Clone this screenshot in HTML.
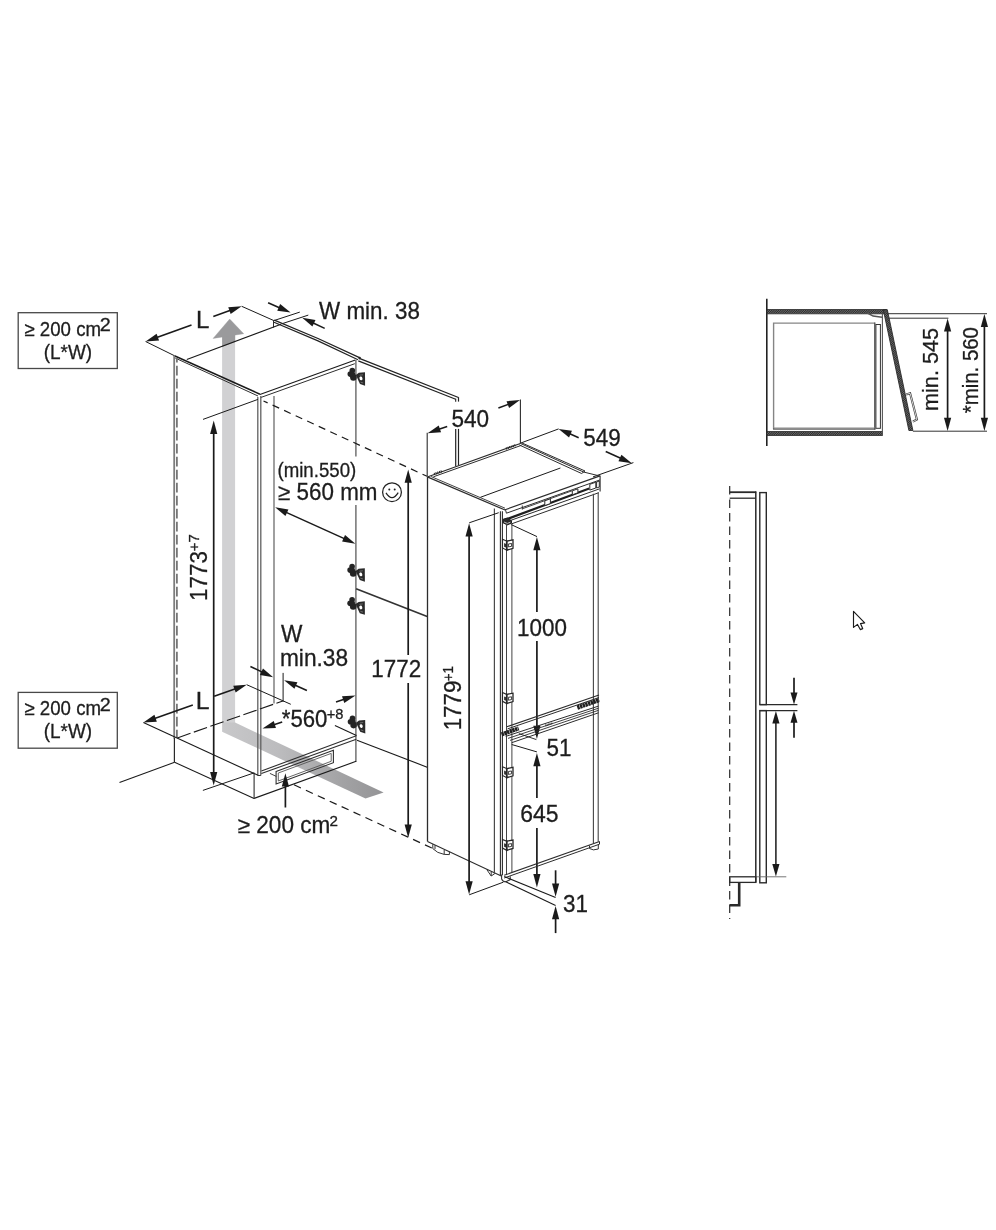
<!DOCTYPE html>
<html><head><meta charset="utf-8"><title>Installation dimensions</title>
<style>
html,body{margin:0;padding:0;background:#fff;}
body{width:996px;height:1230px;overflow:hidden;}
svg{display:block;}
svg text{font-family:"Liberation Sans",sans-serif;}
</style></head><body>
<svg width="996" height="1230" viewBox="0 0 996 1230">
<rect width="996" height="1230" fill="#fff"/>
<defs><linearGradient id="gb" x1="0" y1="0" x2="1" y2="0"><stop offset="0" stop-color="#c8c8ca"/><stop offset="0.35" stop-color="#bcbcbe"/><stop offset="0.75" stop-color="#a2a2a4"/><stop offset="1" stop-color="#949496"/></linearGradient></defs>
<polygon points="222.1,345 235.1,340 235.1,723.1 222.1,723.1" fill="#d1d1d3"/>
<polygon points="222.1,333 222.1,347 235.2,342 235.2,331" fill="#9a9a9c"/>
<polygon points="229.7,319.1 213.1,338.4 243.7,333.7" fill="#9a9a9c" stroke="#9a9a9c" stroke-width="0.4"/>
<polygon points="222.1,722.6 235.1,722.6 383.6,792.4 365.5,798.6 222.1,731.7" fill="url(#gb)"/>
<line x1="191.5" y1="325" x2="155.39" y2="337.98" stroke="#1a1a1a" stroke-width="1.6" />
<polygon points="145.60,341.50 156.62,333.71 159.05,340.49" fill="#1a1a1a"/>
<line x1="213.3" y1="316.4" x2="231.9" y2="309.78" stroke="#1a1a1a" stroke-width="1.6" />
<polygon points="241.70,306.30 230.66,314.05 228.25,307.26" fill="#1a1a1a"/>
<line x1="145.6" y1="341.5" x2="174.4" y2="355.7" stroke="#1a1a1a" stroke-width="1" />
<line x1="241.7" y1="306.3" x2="273.9" y2="320.6" stroke="#1a1a1a" stroke-width="1" />
<line x1="268.1" y1="302.7" x2="281.08" y2="308.41" stroke="#1a1a1a" stroke-width="1.6" />
<polygon points="290.60,312.60 277.25,310.66 280.15,304.07" fill="#1a1a1a"/>
<line x1="324.7" y1="328.4" x2="311.59" y2="322.17" stroke="#1a1a1a" stroke-width="1.6" />
<polygon points="302.20,317.70 315.49,320.03 312.39,326.53" fill="#1a1a1a"/>
<line x1="273.9" y1="320.6" x2="299.8" y2="312.1" stroke="#1a1a1a" stroke-width="1" />
<line x1="281.5" y1="323.9" x2="308.3" y2="315.1" stroke="#1a1a1a" stroke-width="1" />
<line x1="273.5" y1="320.3" x2="273.5" y2="327.6" stroke="#2e2e2e" stroke-width="1" />
<line x1="186.8" y1="359.6" x2="281.0" y2="324.2" stroke="#1a1a1a" stroke-width="1.1" />
<polyline points="274.3,320.1 318,338.5 360.0,357.9" fill="none" stroke="#222" stroke-width="1.3" stroke-linejoin="miter"/>
<line x1="360.0" y1="358.6" x2="458.5" y2="397.5" stroke="#222" stroke-width="1.3" />
<polyline points="274.0,322.3 318,340.9 358.0,359.8" fill="none" stroke="#222" stroke-width="1.2" stroke-linejoin="miter"/>
<line x1="358.3" y1="360.9" x2="455.7" y2="399.2" stroke="#222" stroke-width="1.2" />
<line x1="458.5" y1="397.2" x2="458.5" y2="401.6" stroke="#222" stroke-width="1.2" />
<line x1="455.7" y1="398.8" x2="455.7" y2="401.8" stroke="#222" stroke-width="1.1" />
<line x1="458.5" y1="428.9" x2="458.5" y2="465.3" stroke="#222" stroke-width="1.2" />
<line x1="455.7" y1="428.9" x2="455.7" y2="466.3" stroke="#222" stroke-width="1.2" />
<circle cx="359.6" cy="358.1" r="1.3" fill="#222"/>
<line x1="174.4" y1="355.7" x2="259.9" y2="394.2" stroke="#1a1a1a" stroke-width="1.5" />
<line x1="175.2" y1="358.0" x2="258.0" y2="396.0" stroke="#2e2e2e" stroke-width="1" />
<line x1="259.9" y1="394.4" x2="355.3" y2="360.0" stroke="#1a1a1a" stroke-width="1.1" />
<line x1="260.5" y1="397.6" x2="354.8" y2="363.7" stroke="#2e2e2e" stroke-width="1" />
<line x1="174.2" y1="356" x2="174.2" y2="738.5" stroke="#7c7c7c" stroke-width="1.8" />
<line x1="174.4" y1="738" x2="174.4" y2="762.3" stroke="#2a2a2a" stroke-width="1.2" />
<line x1="176.9" y1="358.1" x2="176.9" y2="737.4" stroke="#707070" stroke-width="1.7" stroke-dasharray="9.8 3.2" stroke-dashoffset="5.3"/>
<line x1="257.8" y1="397" x2="257.8" y2="775.5" stroke="#606060" stroke-width="1.3" />
<line x1="260.8" y1="396" x2="260.8" y2="775.5" stroke="#606060" stroke-width="1.3" />
<line x1="274.0" y1="396" x2="274.0" y2="698" stroke="#606060" stroke-width="1.2" />
<line x1="355.9" y1="360" x2="355.9" y2="456.5" stroke="#626262" stroke-width="1.35" />
<line x1="355.9" y1="505" x2="355.9" y2="762" stroke="#626262" stroke-width="1.35" />
<line x1="203" y1="419.4" x2="257.9" y2="399.4" stroke="#1a1a1a" stroke-width="1" />
<line x1="213.7" y1="432" x2="213.7" y2="775" stroke="#1a1a1a" stroke-width="1.7" />
<polygon points="213.70,420.60 217.30,433.90 210.10,433.90" fill="#1a1a1a"/>
<polygon points="213.70,785.40 210.10,772.10 217.30,772.10" fill="#1a1a1a"/>
<line x1="202.9" y1="790.4" x2="254.3" y2="772.8" stroke="#1a1a1a" stroke-width="1" />
<line x1="263.5" y1="401.0" x2="267.6" y2="402.9" stroke="#1a1a1a" stroke-width="1.2" />
<line x1="272.6" y1="405.1" x2="427" y2="476.3" stroke="#1a1a1a" stroke-width="1.2" stroke-dasharray="7.2 5.5" />
<line x1="284.57" y1="511.59" x2="345.93" y2="539.41" stroke="#1a1a1a" stroke-width="1.5" />
<polygon points="355.40,543.70 342.07,541.61 345.05,535.05" fill="#1a1a1a"/>
<polygon points="275.10,507.30 288.43,509.39 285.45,515.95" fill="#1a1a1a"/>
<circle cx="392.0" cy="492.2" r="9.4" fill="none" stroke="#222" stroke-width="1.25"/>
<circle cx="389.3" cy="489.6" r="1.0" fill="#222"/><circle cx="394.7" cy="489.6" r="1.0" fill="#222"/>
<path d="M386.0 492.9 Q392.0 502.6 398.2 492.6" fill="none" stroke="#222" stroke-width="1.25"/>
<g transform="translate(347.4,367.8)"><circle cx="4.9" cy="2.8" r="2.8" fill="#242424"/><circle cx="2.9" cy="6.3" r="2.8" fill="#242424"/><circle cx="6.0" cy="9.6" r="3.3" fill="#242424"/><circle cx="5.2" cy="6.2" r="2.6" fill="#242424"/><path d="M8.5 7.2 L11.4 5.0 L17.6 4.4 L17.7 17.9 L12.6 16.3 L10.6 12 Z" fill="#2a2a2a"/><ellipse cx="13.6" cy="10.6" rx="1.5" ry="1.9" fill="#fff" transform="rotate(-20 13.6 10.6)"/><path d="M12.2 7.4 L15.6 7.0" stroke="#888" stroke-width="0.7"/><path d="M13.2 14.4 L15.8 15.2" stroke="#888" stroke-width="0.7"/></g>
<g transform="translate(347.2,563.8)"><circle cx="4.9" cy="2.8" r="2.8" fill="#242424"/><circle cx="2.9" cy="6.3" r="2.8" fill="#242424"/><circle cx="6.0" cy="9.6" r="3.3" fill="#242424"/><circle cx="5.2" cy="6.2" r="2.6" fill="#242424"/><path d="M8.5 7.2 L11.4 5.0 L17.6 4.4 L17.7 17.9 L12.6 16.3 L10.6 12 Z" fill="#2a2a2a"/><ellipse cx="13.6" cy="10.6" rx="1.5" ry="1.9" fill="#fff" transform="rotate(-20 13.6 10.6)"/><path d="M12.2 7.4 L15.6 7.0" stroke="#888" stroke-width="0.7"/><path d="M13.2 14.4 L15.8 15.2" stroke="#888" stroke-width="0.7"/></g>
<g transform="translate(347.2,596.9)"><circle cx="4.9" cy="2.8" r="2.8" fill="#242424"/><circle cx="2.9" cy="6.3" r="2.8" fill="#242424"/><circle cx="6.0" cy="9.6" r="3.3" fill="#242424"/><circle cx="5.2" cy="6.2" r="2.6" fill="#242424"/><path d="M8.5 7.2 L11.4 5.0 L17.6 4.4 L17.7 17.9 L12.6 16.3 L10.6 12 Z" fill="#2a2a2a"/><ellipse cx="13.6" cy="10.6" rx="1.5" ry="1.9" fill="#fff" transform="rotate(-20 13.6 10.6)"/><path d="M12.2 7.4 L15.6 7.0" stroke="#888" stroke-width="0.7"/><path d="M13.2 14.4 L15.8 15.2" stroke="#888" stroke-width="0.7"/></g>
<g transform="translate(347.6,715.5)"><circle cx="4.9" cy="2.8" r="2.8" fill="#242424"/><circle cx="2.9" cy="6.3" r="2.8" fill="#242424"/><circle cx="6.0" cy="9.6" r="3.3" fill="#242424"/><circle cx="5.2" cy="6.2" r="2.6" fill="#242424"/><path d="M8.5 7.2 L11.4 5.0 L17.6 4.4 L17.7 17.9 L12.6 16.3 L10.6 12 Z" fill="#2a2a2a"/><ellipse cx="13.6" cy="10.6" rx="1.5" ry="1.9" fill="#fff" transform="rotate(-20 13.6 10.6)"/><path d="M12.2 7.4 L15.6 7.0" stroke="#888" stroke-width="0.7"/><path d="M13.2 14.4 L15.8 15.2" stroke="#888" stroke-width="0.7"/></g>
<line x1="356.1" y1="588.8" x2="427.2" y2="616.5" stroke="#333" stroke-width="1.7" />
<line x1="334.9" y1="725.4" x2="356.5" y2="735.4" stroke="#1a1a1a" stroke-width="1.1" />
<line x1="357" y1="740.3" x2="427.8" y2="767.4" stroke="#1a1a1a" stroke-width="1.1" />
<line x1="192.8" y1="705" x2="153.2" y2="719.11" stroke="#1a1a1a" stroke-width="1.6" />
<polygon points="143.40,722.60 154.44,714.85 156.85,721.63" fill="#1a1a1a"/>
<line x1="214.2" y1="696.2" x2="236.9" y2="688.17" stroke="#1a1a1a" stroke-width="1.6" />
<polygon points="246.70,684.70 235.65,692.43 233.24,685.64" fill="#1a1a1a"/>
<line x1="246.7" y1="684.7" x2="290.8" y2="704.3" stroke="#1a1a1a" stroke-width="1" />
<line x1="250.4" y1="666.5" x2="263.8" y2="672.85" stroke="#1a1a1a" stroke-width="1.6" />
<polygon points="273.20,677.30 259.91,674.99 262.99,668.48" fill="#1a1a1a"/>
<line x1="306.9" y1="690.6" x2="293.56" y2="684.52" stroke="#1a1a1a" stroke-width="1.6" />
<polygon points="284.10,680.20 297.42,682.32 294.43,688.87" fill="#1a1a1a"/>
<line x1="283.1" y1="672.9" x2="283.1" y2="701.8" stroke="#1a1a1a" stroke-width="1" />
<line x1="274.0" y1="698" x2="274.0" y2="703.5" stroke="#606060" stroke-width="1.2" />
<line x1="177.3" y1="737.9" x2="282.8" y2="701" stroke="#1a1a1a" stroke-width="1.1" stroke-dasharray="14 3.5" />
<line x1="282.2" y1="722.1" x2="272.38" y2="725.34" stroke="#1a1a1a" stroke-width="1.6" />
<polygon points="262.50,728.60 273.72,721.11 275.97,727.95" fill="#1a1a1a"/>
<line x1="336" y1="702" x2="345.62" y2="698.84" stroke="#1a1a1a" stroke-width="1.6" />
<polygon points="355.50,695.60 344.27,703.07 342.03,696.23" fill="#1a1a1a"/>
<line x1="143.4" y1="722.6" x2="258" y2="775.3" stroke="#1a1a1a" stroke-width="1.1" />
<line x1="174.6" y1="762.3" x2="119.5" y2="782.4" stroke="#1a1a1a" stroke-width="1.1" />
<line x1="174.6" y1="762.3" x2="254.1" y2="798.4" stroke="#1a1a1a" stroke-width="1.1" />
<line x1="254.1" y1="773.3" x2="254.1" y2="798.4" stroke="#2e2e2e" stroke-width="1.1" />
<line x1="254.1" y1="798.4" x2="356.1" y2="761.3" stroke="#1a1a1a" stroke-width="1.1" />
<line x1="261.4" y1="771.0" x2="356.3" y2="735.8" stroke="#2e2e2e" stroke-width="1.1" />
<line x1="261.4" y1="773.6" x2="356.3" y2="739.3" stroke="#2e2e2e" stroke-width="1.1" />
<line x1="269.9" y1="773.4" x2="276.3" y2="776.4" stroke="#2e2e2e" stroke-width="0.9" />
<line x1="257.8" y1="775.5" x2="260.8" y2="775.5" stroke="#2e2e2e" stroke-width="1" />
<polygon points="276.1,771.5 333.4,750.2 333.4,762.7 276.1,784" fill="none" stroke="#2e2e2e" stroke-width="1.1" stroke-linejoin="miter"/>
<polygon points="278.3,773.0 331.2,753.4 331.2,761.3 278.3,781.0" fill="none" stroke="#555" stroke-width="0.9" stroke-linejoin="miter"/>
<line x1="285.4" y1="783" x2="285.4" y2="807.5" stroke="#1a1a1a" stroke-width="1.7" />
<polygon points="285.40,773.30 289.00,786.60 281.80,786.60" fill="#1a1a1a"/>
<line x1="294" y1="784.8" x2="431.8" y2="848" stroke="#1a1a1a" stroke-width="1.2" stroke-dasharray="7.6 5.5" />
<rect x="18.2" y="312.7" width="99.1" height="55.8" fill="#fff" stroke="#484848" stroke-width="1.3"/>
<rect x="18.2" y="692.4000000000001" width="99.1" height="55.8" fill="#fff" stroke="#484848" stroke-width="1.3"/>
<line x1="427.2" y1="432.7" x2="427.2" y2="476.6" stroke="#2c2c2c" stroke-width="1.1" />
<line x1="447.2" y1="426.4" x2="437.43" y2="429.79" stroke="#1a1a1a" stroke-width="1.6" />
<polygon points="427.60,433.20 438.70,425.54 441.06,432.34" fill="#1a1a1a"/>
<line x1="498.4" y1="408.1" x2="510.26" y2="403.65" stroke="#1a1a1a" stroke-width="1.6" />
<polygon points="520.00,400.00 509.09,407.94 506.56,401.19" fill="#1a1a1a"/>
<line x1="520.4" y1="399.5" x2="520.4" y2="443.4" stroke="#2c2c2c" stroke-width="1.1" />
<line x1="578.7" y1="437.7" x2="568.13" y2="433.07" stroke="#1a1a1a" stroke-width="1.6" />
<polygon points="558.60,428.90 571.95,430.82 569.06,437.41" fill="#1a1a1a"/>
<line x1="605.7" y1="451.6" x2="622.31" y2="459.05" stroke="#1a1a1a" stroke-width="1.6" />
<polygon points="631.80,463.30 618.46,461.27 621.41,454.70" fill="#1a1a1a"/>
<line x1="520.4" y1="443.2" x2="558.6" y2="428.9" stroke="#1a1a1a" stroke-width="1" />
<line x1="593.0" y1="476.9" x2="633.4" y2="462.6" stroke="#1a1a1a" stroke-width="1" />
<line x1="427.3" y1="476.9" x2="520.4" y2="443.4" stroke="#2c2c2c" stroke-width="1.1" />
<line x1="433.4" y1="476.8" x2="521.5" y2="445.3" stroke="#2c2c2c" stroke-width="1.0" />
<line x1="434" y1="474.0" x2="442" y2="471.2" stroke="#222" stroke-width="2.2" stroke-dasharray="1 0.8" />
<line x1="506" y1="448.6" x2="516" y2="445.0" stroke="#222" stroke-width="2.2" stroke-dasharray="1 0.8" />
<line x1="520.4" y1="443.4" x2="583.5" y2="472.0" stroke="#2c2c2c" stroke-width="1.0" />
<line x1="519.4" y1="445.0" x2="581.6" y2="473.5" stroke="#2c2c2c" stroke-width="1.0" />
<line x1="521.8" y1="442.9" x2="585.0" y2="471.0" stroke="#2c2c2c" stroke-width="1.0" />
<line x1="581.6" y1="473.5" x2="585.0" y2="471.0" stroke="#2c2c2c" stroke-width="1.0" />
<line x1="583.5" y1="472.0" x2="599.8" y2="476.0" stroke="#2c2c2c" stroke-width="1.0" />
<line x1="480.4" y1="497.3" x2="560.4" y2="468.0" stroke="#1a1a1a" stroke-width="1.0" />
<line x1="427.3" y1="476.9" x2="505.7" y2="510.3" stroke="#2c2c2c" stroke-width="1.2" />
<line x1="431.0" y1="476.5" x2="505.0" y2="508.2" stroke="#2c2c2c" stroke-width="0.9" />
<line x1="505.0" y1="509.8" x2="600" y2="475.9" stroke="#2c2c2c" stroke-width="1.2" />
<line x1="506.4" y1="513.2" x2="600" y2="479.9" stroke="#2c2c2c" stroke-width="1.0" />
<line x1="505.7" y1="510.3" x2="506.4" y2="513.2" stroke="#2c2c2c" stroke-width="1" />
<line x1="600.1" y1="475.6" x2="600.1" y2="491.6" stroke="#2c2c2c" stroke-width="1.1" />
<line x1="522.3" y1="508.8" x2="572.3" y2="490.7" stroke="#2c2c2c" stroke-width="0.9" />
<line x1="503.6" y1="520.4" x2="589.2" y2="488.5" stroke="#1e1e1e" stroke-width="2.2" />
<line x1="507.2" y1="521.6" x2="599.4" y2="488.9" stroke="#2c2c2c" stroke-width="1.0" />
<line x1="510.8" y1="524.1" x2="598.8" y2="492.7" stroke="#2c2c2c" stroke-width="1.0" />
<line x1="522.3" y1="505.5" x2="522.3" y2="509.5" stroke="#2c2c2c" stroke-width="0.9" />
<polygon points="572.3,490.8 577.9,488.8 577.9,492.8 572.3,494.8" fill="#fff" stroke="#2c2c2c" stroke-width="1.0" stroke-linejoin="miter"/>
<polygon points="589.8,484.3 595.8,482.2 595.8,488.0 589.8,490.1" fill="#fff" stroke="#2c2c2c" stroke-width="1.0" stroke-linejoin="miter"/>
<polygon points="596.6,482.0 599.3,481.0 599.3,487.0 596.6,488.0" fill="#fff" stroke="#2c2c2c" stroke-width="1.0" stroke-linejoin="miter"/>
<polygon points="544.8,500.8 550.4,498.8 550.4,503.6 544.8,505.6" fill="#fff" stroke="#2c2c2c" stroke-width="1.0" stroke-linejoin="miter"/>
<polygon points="502.5,519.5 507.3,518.0 511.5,520.7 511.5,523.1 507.3,524.9 502.5,522.5" fill="#2a2a2a" stroke="#222" stroke-width="1" stroke-linejoin="miter"/>
<polyline points="504.0,522.0 507.3,523.4 510.4,522.2" fill="none" stroke="#ddd" stroke-width="0.8" stroke-linejoin="miter"/>
<line x1="427.5" y1="476.9" x2="427.5" y2="841.4" stroke="#2c2c2c" stroke-width="1.3" />
<line x1="427.5" y1="841.4" x2="501.8" y2="876.2" stroke="#2c2c2c" stroke-width="1.1" />
<line x1="494.4" y1="508.5" x2="494.4" y2="873.5" stroke="#4a4a4a" stroke-width="1.2" />
<line x1="500.4" y1="511.3" x2="500.4" y2="875.3" stroke="#2c2c2c" stroke-width="1.1" />
<line x1="502.4" y1="511.3" x2="502.4" y2="875.3" stroke="#2c2c2c" stroke-width="1.1" />
<line x1="506.5" y1="524" x2="506.5" y2="874.5" stroke="#444" stroke-width="1.0" />
<line x1="511.9" y1="524" x2="511.9" y2="872" stroke="#444" stroke-width="1.0" />
<line x1="593.4" y1="493.7" x2="593.4" y2="843" stroke="#444" stroke-width="1.1" />
<line x1="598.2" y1="492.5" x2="598.2" y2="841.5" stroke="#444" stroke-width="1.1" />
<line x1="469.2" y1="522.8" x2="498.7" y2="512.7" stroke="#1a1a1a" stroke-width="1" />
<line x1="469.1" y1="534" x2="469.1" y2="884" stroke="#1a1a1a" stroke-width="1.7" />
<polygon points="469.10,523.30 472.70,536.60 465.50,536.60" fill="#1a1a1a"/>
<polygon points="469.10,894.60 465.50,881.30 472.70,881.30" fill="#1a1a1a"/>
<line x1="469.2" y1="894.8" x2="503.3" y2="882.2" stroke="#1a1a1a" stroke-width="1" />
<line x1="408.2" y1="480" x2="408.2" y2="655" stroke="#1a1a1a" stroke-width="1.7" />
<line x1="408.2" y1="683" x2="408.2" y2="827" stroke="#1a1a1a" stroke-width="1.7" />
<polygon points="408.20,469.50 411.80,482.80 404.60,482.80" fill="#1a1a1a"/>
<polygon points="408.20,837.70 404.60,824.40 411.80,824.40" fill="#1a1a1a"/>
<line x1="511.4" y1="524.7" x2="537" y2="536.6" stroke="#1a1a1a" stroke-width="1" />
<line x1="536.9" y1="548" x2="536.9" y2="612" stroke="#1a1a1a" stroke-width="1.7" />
<line x1="536.9" y1="641" x2="536.9" y2="728" stroke="#1a1a1a" stroke-width="1.7" />
<polygon points="536.90,537.00 540.50,550.30 533.30,550.30" fill="#1a1a1a"/>
<polygon points="536.90,739.10 533.30,725.80 540.50,725.80" fill="#1a1a1a"/>
<line x1="506.9" y1="726.7" x2="599" y2="695.1" stroke="#2c2c2c" stroke-width="1.1" />
<line x1="507.5" y1="728.9" x2="599" y2="697.5" stroke="#2c2c2c" stroke-width="1.0" />
<line x1="505.7" y1="736.4" x2="598.5" y2="706.1" stroke="#2c2c2c" stroke-width="1.0" />
<line x1="508" y1="738.4" x2="598.5" y2="708.2" stroke="#2c2c2c" stroke-width="0.9" />
<line x1="510" y1="740.4" x2="598.5" y2="710.3" stroke="#2c2c2c" stroke-width="0.9" />
<line x1="511.7" y1="742.7" x2="598.5" y2="712.8" stroke="#2c2c2c" stroke-width="1.0" />
<line x1="501.6" y1="734.4" x2="518.7" y2="728.4" stroke="#202020" stroke-width="4.2" stroke-dasharray="2.4 0.45" />
<line x1="577.3" y1="707.6" x2="599.2" y2="700.0" stroke="#202020" stroke-width="4.4" stroke-dasharray="2.4 0.45" />
<line x1="545.4" y1="725.6" x2="552.7" y2="723.1" stroke="#333" stroke-width="2.0" stroke-dasharray="0.9 0.6" />
<line x1="518.9" y1="733.6" x2="536.4" y2="739.6" stroke="#1a1a1a" stroke-width="0.9" />
<line x1="511.7" y1="744.5" x2="536.9" y2="751.9" stroke="#1a1a1a" stroke-width="1" />
<line x1="536.9" y1="764" x2="536.9" y2="798" stroke="#1a1a1a" stroke-width="1.7" />
<line x1="536.9" y1="828" x2="536.9" y2="877" stroke="#1a1a1a" stroke-width="1.7" />
<polygon points="536.90,752.90 540.50,766.20 533.30,766.20" fill="#1a1a1a"/>
<polygon points="536.90,887.40 533.30,874.10 540.50,874.10" fill="#1a1a1a"/>
<line x1="504.2" y1="875.3" x2="599.5" y2="841.5" stroke="#2c2c2c" stroke-width="1.1" />
<line x1="504.2" y1="878.0" x2="599.5" y2="844.2" stroke="#2c2c2c" stroke-width="1.0" />
<line x1="599.5" y1="841.5" x2="599.5" y2="844.2" stroke="#2c2c2c" stroke-width="1" />
<path d="M432.8 844.2 L432.8 848.6 Q437 853.2 444.2 854.4 L449.4 854.6 L449.4 851.6 M435 845.2 L435 849.2 M444.2 850 L444.2 854.4" fill="none" stroke="#333" stroke-width="1"/>
<path d="M486.8 869.6 L491.2 876.0 L494.8 873.6 M491.2 871.8 L491.2 876.0" fill="none" stroke="#333" stroke-width="1"/>
<path d="M589.5 845.5 L589.5 848.5 Q593 851 598.3 849 L598.3 844.5" fill="none" stroke="#333" stroke-width="1"/>
<path d="M501.6 874.5 L501.6 879 Q503 882.4 506.4 881.6 L510.2 879.6 L510.2 876.2" fill="none" stroke="#333" stroke-width="1.1"/>
<line x1="504.2" y1="876.6" x2="555.6" y2="897.4" stroke="#1a1a1a" stroke-width="1.1" />
<line x1="505.4" y1="881.6" x2="555.6" y2="905.5" stroke="#1a1a1a" stroke-width="1.1" />
<line x1="555.6" y1="870.3" x2="555.6" y2="886" stroke="#1a1a1a" stroke-width="1.7" />
<polygon points="555.60,896.70 552.00,883.40 559.20,883.40" fill="#1a1a1a"/>
<line x1="555.6" y1="916" x2="555.6" y2="933.1" stroke="#1a1a1a" stroke-width="1.7" />
<polygon points="555.60,906.00 559.20,919.30 552.00,919.30" fill="#1a1a1a"/>
<g transform="translate(502.5,539.3)" stroke="#262626" stroke-linejoin="miter"><polygon points="0,0 4.2,1.8 4.2,10.9 0,8.7" fill="#fff" stroke-width="1.1"/><polygon points="4.2,1.8 10.5,0.6 10.5,9.0 4.2,10.9" fill="#fff" stroke-width="1.3"/><polygon points="5.9,4.7 9.1,4.2 9.1,7.0 5.9,7.6" fill="none" stroke-width="0.9"/><polygon points="1.6,3.8 3.6,4.6 3.6,8.2 1.6,7.4" fill="#333" stroke="none"/><line x1="4.2" y1="1.4" x2="4.2" y2="11.4" stroke-width="1.6"/></g>
<g transform="translate(502.5,692.6)" stroke="#262626" stroke-linejoin="miter"><polygon points="0,0 4.2,1.8 4.2,10.9 0,8.7" fill="#fff" stroke-width="1.1"/><polygon points="4.2,1.8 10.5,0.6 10.5,9.0 4.2,10.9" fill="#fff" stroke-width="1.3"/><polygon points="5.9,4.7 9.1,4.2 9.1,7.0 5.9,7.6" fill="none" stroke-width="0.9"/><polygon points="1.6,3.8 3.6,4.6 3.6,8.2 1.6,7.4" fill="#333" stroke="none"/><line x1="4.2" y1="1.4" x2="4.2" y2="11.4" stroke-width="1.6"/></g>
<g transform="translate(502.5,766.8)" stroke="#262626" stroke-linejoin="miter"><polygon points="0,0 4.2,1.8 4.2,10.9 0,8.7" fill="#fff" stroke-width="1.1"/><polygon points="4.2,1.8 10.5,0.6 10.5,9.0 4.2,10.9" fill="#fff" stroke-width="1.3"/><polygon points="5.9,4.7 9.1,4.2 9.1,7.0 5.9,7.6" fill="none" stroke-width="0.9"/><polygon points="1.6,3.8 3.6,4.6 3.6,8.2 1.6,7.4" fill="#333" stroke="none"/><line x1="4.2" y1="1.4" x2="4.2" y2="11.4" stroke-width="1.6"/></g>
<g transform="translate(502.5,839.4)" stroke="#262626" stroke-linejoin="miter"><polygon points="0,0 4.2,1.8 4.2,10.9 0,8.7" fill="#fff" stroke-width="1.1"/><polygon points="4.2,1.8 10.5,0.6 10.5,9.0 4.2,10.9" fill="#fff" stroke-width="1.3"/><polygon points="5.9,4.7 9.1,4.2 9.1,7.0 5.9,7.6" fill="none" stroke-width="0.9"/><polygon points="1.6,3.8 3.6,4.6 3.6,8.2 1.6,7.4" fill="#333" stroke="none"/><line x1="4.2" y1="1.4" x2="4.2" y2="11.4" stroke-width="1.6"/></g>
<defs><pattern id="hatch" width="1.6" height="1.6" patternUnits="userSpaceOnUse" patternTransform="rotate(45)"><rect width="1.6" height="1.6" fill="#6a6a6a"/><rect width="0.8" height="1.6" fill="#2a2a2a"/></pattern></defs>
<line x1="766.8" y1="298.8" x2="766.8" y2="446" stroke="#222" stroke-width="1.6" />
<polygon points="766.8,309.5 886.6,309.5 887.4,313.8 766.8,313.8" fill="url(#hatch)" stroke="#2a2a2a" stroke-width="0.8"/>
<rect x="766.8" y="431.5" width="115.8" height="4.0" fill="url(#hatch)" stroke="#2a2a2a" stroke-width="0.8"/>
<polyline points="773.6,429.0 773.6,323.1 874.8,323.1" fill="none" stroke="#858585" stroke-width="1.4" stroke-linejoin="miter"/>
<line x1="874.8" y1="322.6" x2="874.8" y2="429.4" stroke="#4a4a4a" stroke-width="1.3" />
<line x1="773.0" y1="428.0" x2="874.8" y2="428.0" stroke="#8a8a8a" stroke-width="1.0" />
<line x1="773.0" y1="429.1" x2="875.4" y2="429.1" stroke="#3c3c3c" stroke-width="1.0" />
<rect x="875.9" y="324.5" width="4.5" height="103.8" fill="#fff" stroke="#333" stroke-width="1.0"/>
<line x1="882.4" y1="314" x2="882.4" y2="434.9" stroke="#555" stroke-width="1.1" />
<polyline points="867.5,313.0 873.1,316.1 882.0,317.2" fill="none" stroke="#555" stroke-width="1.6" stroke-linejoin="miter"/>
<polygon points="883.3,309.7 887.3,309.7 912.9,430.5 908.9,430.5" fill="url(#hatch)" stroke="#2a2a2a" stroke-width="0.9" stroke-linejoin="miter"/>
<polyline points="906.1,394.4 910.1,393.3 916.9,419.5 912.9,421.7" fill="none" stroke="#333" stroke-width="2.1" stroke-linejoin="miter"/>
<polyline points="906.1,394.4 910.1,393.3 916.9,419.5 912.9,421.7" fill="none" stroke="#fff" stroke-width="0.8" stroke-linejoin="miter"/>
<line x1="887.3" y1="313.7" x2="987" y2="313.7" stroke="#333" stroke-width="1.0" />
<line x1="889" y1="318.2" x2="948.4" y2="318.2" stroke="#333" stroke-width="1.0" />
<line x1="912.9" y1="431.2" x2="987" y2="431.2" stroke="#333" stroke-width="1.0" />
<line x1="947.6" y1="328.96" x2="947.6" y2="420.44" stroke="#1a1a1a" stroke-width="1.7" />
<polygon points="947.60,431.00 944.00,417.80 951.20,417.80" fill="#1a1a1a"/>
<polygon points="947.60,318.40 951.20,331.60 944.00,331.60" fill="#1a1a1a"/>
<line x1="984.4" y1="324.46" x2="984.4" y2="420.44" stroke="#1a1a1a" stroke-width="1.7" />
<polygon points="984.40,431.00 980.80,417.80 988.00,417.80" fill="#1a1a1a"/>
<polygon points="984.40,313.90 988.00,327.10 980.80,327.10" fill="#1a1a1a"/>
<line x1="729.7" y1="486" x2="729.7" y2="919" stroke="#2a2a2a" stroke-width="1.2" stroke-dasharray="8.4 5.1" />
<line x1="729.7" y1="492.2" x2="756.2" y2="492.2" stroke="#2a2a2a" stroke-width="1.8" />
<line x1="729.7" y1="498.2" x2="755.8" y2="498.2" stroke="#2a2a2a" stroke-width="1.3" />
<line x1="755.8" y1="491.4" x2="755.8" y2="882.6" stroke="#2a2a2a" stroke-width="1.5" />
<rect x="759.8" y="492.6" width="6.5" height="212" fill="none" stroke="#2a2a2a" stroke-width="1.4"/>
<rect x="759.8" y="710.6" width="6.5" height="172.2" fill="none" stroke="#2a2a2a" stroke-width="1.4"/>
<line x1="759.8" y1="704.6" x2="797.4" y2="704.6" stroke="#2a2a2a" stroke-width="1.1" />
<line x1="759.8" y1="710.6" x2="797.4" y2="710.6" stroke="#2a2a2a" stroke-width="1.1" />
<line x1="794" y1="677.8" x2="794" y2="695" stroke="#1a1a1a" stroke-width="1.7" />
<polygon points="794.00,704.40 790.50,692.40 797.50,692.40" fill="#1a1a1a"/>
<line x1="794" y1="720" x2="794" y2="737.8" stroke="#1a1a1a" stroke-width="1.7" />
<polygon points="794.00,710.80 797.50,722.80 790.50,722.80" fill="#1a1a1a"/>
<line x1="775.9" y1="721.0" x2="775.9" y2="866.4" stroke="#1a1a1a" stroke-width="1.5" />
<polygon points="775.90,876.40 772.30,863.90 779.50,863.90" fill="#1a1a1a"/>
<polygon points="775.90,711.00 779.50,723.50 772.30,723.50" fill="#1a1a1a"/>
<line x1="755.8" y1="876.8" x2="786.3" y2="876.8" stroke="#666" stroke-width="0.9" />
<rect x="729.7" y="876.8" width="26.1" height="5.6" fill="none" stroke="#2a2a2a" stroke-width="1.3"/>
<polyline points="739.2,882.4 739.2,905.2 729.7,905.2" fill="none" stroke="#2a2a2a" stroke-width="2.6" stroke-linejoin="miter"/>
<path d="M853.5 611.3 L853.5 627.4 L857.5 624.4 L860.3 629.6 L862.7 628.6 L860.5 623.6 L864.7 622.9 Z" fill="#fff" stroke="#1a1a1a" stroke-width="1.15" stroke-linejoin="round"/>
<g opacity="0.995">
<text transform="translate(319.08,318.60) scale(0.9739,1)" font-size="23.0" fill="#1c1c1c" stroke="#1c1c1c" stroke-width="0.3">W min. 38</text>
<text transform="translate(196.04,327.80) scale(1.0469,1)" font-size="23.0" fill="#1c1c1c" stroke="#1c1c1c" stroke-width="0.3">L</text>
<text transform="translate(277.50,477.00) scale(0.9613,1)" font-size="19.4" fill="#1c1c1c" stroke="#1c1c1c" stroke-width="0.3">(min.550)</text>
<text transform="translate(277.97,499.50) scale(0.9752,1)" font-size="23.0" fill="#1c1c1c" stroke="#1c1c1c" stroke-width="0.3">≥ 560 mm</text>
<text transform="translate(280.88,641.70) scale(0.9860,1)" font-size="23.0" fill="#1c1c1c" stroke="#1c1c1c" stroke-width="0.3">W</text>
<text transform="translate(279.92,666.00) scale(0.9880,1)" font-size="23.0" fill="#1c1c1c" stroke="#1c1c1c" stroke-width="0.3">min.38</text>
<text transform="translate(195.68,708.50) scale(1.0765,1)" font-size="23.0" fill="#1c1c1c" stroke="#1c1c1c" stroke-width="0.3">L</text>
<text transform="translate(281.74,726.70) scale(0.9652,1)" font-size="23.0" fill="#1c1c1c" stroke="#1c1c1c" stroke-width="0.3">*560</text>
<text transform="translate(326.77,718.90) scale(0.9778,1)" font-size="15" fill="#1c1c1c" stroke="#1c1c1c" stroke-width="0.3">+8</text>
<text transform="translate(237.66,833.30) scale(0.9813,1)" font-size="23.0" fill="#1c1c1c" stroke="#1c1c1c" stroke-width="0.3">≥ 200 cm</text>
<text transform="translate(329.45,826.20) scale(1.0000,1)" font-size="15.2" fill="#1c1c1c" stroke="#1c1c1c" stroke-width="0.3">2</text>
<text transform="translate(371.35,677.00) scale(0.9750,1)" font-size="23.0" fill="#1c1c1c" stroke="#1c1c1c" stroke-width="0.3">1772</text>
<text transform="translate(451.42,426.90) scale(0.9808,1)" font-size="23.0" fill="#1c1c1c" stroke="#1c1c1c" stroke-width="0.3">540</text>
<text transform="translate(583.22,446.40) scale(0.9759,1)" font-size="23.0" fill="#1c1c1c" stroke="#1c1c1c" stroke-width="0.3">549</text>
<text transform="translate(517.11,636.30) scale(0.9750,1)" font-size="23.0" fill="#1c1c1c" stroke="#1c1c1c" stroke-width="0.3">1000</text>
<text transform="translate(546.62,756.30) scale(0.9750,1)" font-size="23.0" fill="#1c1c1c" stroke="#1c1c1c" stroke-width="0.3">51</text>
<text transform="translate(520.28,821.80) scale(0.9979,1)" font-size="23.0" fill="#1c1c1c" stroke="#1c1c1c" stroke-width="0.3">645</text>
<text transform="translate(562.95,911.80) scale(0.9750,1)" font-size="23.0" fill="#1c1c1c" stroke="#1c1c1c" stroke-width="0.3">31</text>
<text transform="translate(206.80,600.97) rotate(-90) scale(0.9750,1)" font-size="23.0" fill="#1c1c1c" stroke="#1c1c1c" stroke-width="0.3">1773</text>
<text transform="translate(198.70,551.24) rotate(-90) scale(0.9920,1)" font-size="15" fill="#1c1c1c" stroke="#1c1c1c" stroke-width="0.3">+7</text>
<text transform="translate(460.80,730.37) rotate(-90) scale(0.9750,1)" font-size="23.0" fill="#1c1c1c" stroke="#1c1c1c" stroke-width="0.3">1779</text>
<text transform="translate(452.60,681.37) rotate(-90) scale(0.8896,1)" font-size="15" fill="#1c1c1c" stroke="#1c1c1c" stroke-width="0.3">+1</text>
<text transform="translate(938.30,410.95) rotate(-90) scale(0.9699,1)" font-size="22.3" fill="#1c1c1c" stroke="#1c1c1c" stroke-width="0.3">min. 545</text>
<text transform="translate(978.30,413.24) rotate(-90) scale(0.9154,1)" font-size="22.3" fill="#1c1c1c" stroke="#1c1c1c" stroke-width="0.3">*min. 560</text>
<text transform="translate(24.40,335.80) scale(0.9572,1)" font-size="19.5" fill="#1c1c1c" stroke="#1c1c1c" stroke-width="0.3">≥ 200 cm</text>
<text transform="translate(99.86,331.00) scale(1.0435,1)" font-size="19" fill="#1c1c1c" stroke="#1c1c1c" stroke-width="0.3">2</text>
<text transform="translate(43.80,358.80) scale(0.9563,1)" font-size="19.8" fill="#1c1c1c" stroke="#1c1c1c" stroke-width="0.3">(L*W)</text>
<text transform="translate(24.40,715.40) scale(0.9572,1)" font-size="19.5" fill="#1c1c1c" stroke="#1c1c1c" stroke-width="0.3">≥ 200 cm</text>
<text transform="translate(99.86,710.60) scale(1.0435,1)" font-size="19" fill="#1c1c1c" stroke="#1c1c1c" stroke-width="0.3">2</text>
<text transform="translate(43.80,738.40) scale(0.9563,1)" font-size="19.8" fill="#1c1c1c" stroke="#1c1c1c" stroke-width="0.3">(L*W)</text>
</g>
</svg>
</body></html>
